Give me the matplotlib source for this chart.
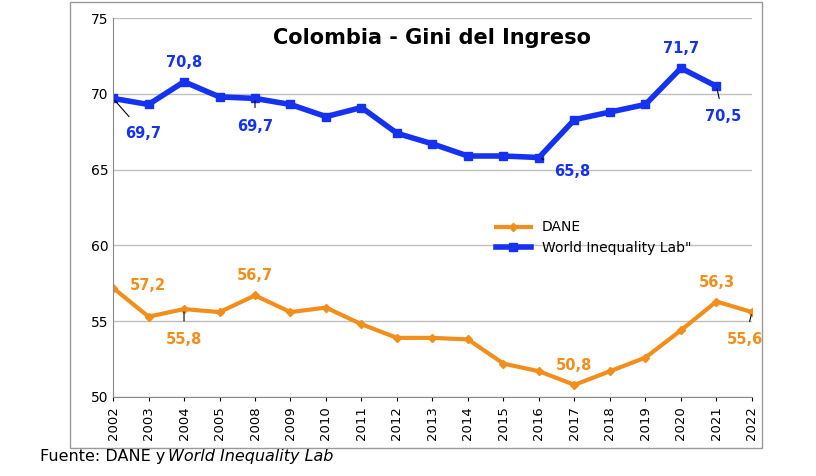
import numpy as np
import matplotlib.pyplot as plt
from matplotlib.patches import Rectangle

years = ['2002', '2003', '2004', '2005', '2008', '2009', '2010', '2011', '2012', '2013',
         '2014', '2015', '2016', '2017', '2018', '2019', '2020', '2021', '2022']
dane = [57.2, 55.3, 55.8, 55.6, 56.7, 55.6, 55.9, 54.8, 53.9, 53.9,
        53.8, 52.2, 51.7, 50.8, 51.7, 52.6, 54.4, 56.3, 55.6]
wil = [69.7, 69.3, 70.8, 69.8, 69.7, 69.3, 68.5, 69.1, 67.4, 66.7,
       65.9, 65.9, 65.8, 68.3, 68.8, 69.3, 71.7, 70.5, np.nan]

orange = '#F28E1C'
blue = '#1432F0'

fig = plt.figure(figsize=(8.16, 4.76), dpi=100)
ax = fig.add_axes([0.1385, 0.166, 0.783, 0.796])
x = np.arange(len(years))

ax.plot(x, dane, color=orange, lw=3, marker='D', ms=4, label='DANE')
ax.plot(x, wil, color=blue, lw=4, marker='s', ms=6, label='World Inequality Lab"')

ax.set_xlim(0, len(years) - 1)
ax.set_ylim(50, 75)
ax.set_yticks([50, 55, 60, 65, 70, 75])
ax.set_xticks(x)
ax.set_xticklabels(years, rotation=90, fontsize=9.5)
ax.tick_params(axis='y', labelsize=10, length=0)
ax.tick_params(axis='x', length=3)
ax.grid(axis='y', color='#bfbfbf', lw=1)
ax.set_axisbelow(True)
for s in ['top', 'right']:
    ax.spines[s].set_visible(False)
ax.spines['left'].set_color('#888888')
ax.spines['bottom'].set_color('#888888')

ax.set_title('Colombia - Gini del Ingreso', fontsize=15, fontweight='bold', y=0.91)

# (index, series, label offset in points, draw leader)
notes = [
    (0, wil, (22, -25), True), (2, wil, (0, 14), False), (4, wil, (0, -20), True),
    (12, wil, (24, -10), True), (16, wil, (0, 14), False), (17, wil, (5, -22), True),
    (0, dane, (25, 2), False), (2, dane, (0, -22), True), (4, dane, (0, 14), False),
    (13, dane, (0, 14), False), (17, dane, (0, 14), False), (18, dane, (-5, -20), True),
]
for i, series, off, leader in notes:
    col = blue if series is wil else orange
    txt = f'{series[i]:.1f}'.replace('.', ',')
    ax.annotate(txt, (x[i], series[i]), xytext=off, textcoords='offset points',
                ha='center', va='center', color=col, fontsize=10.5, fontweight='bold',
                arrowprops=dict(arrowstyle='-', color='black', lw=0.8, shrinkB=2, shrinkA=6)
                if leader else None)

ax.legend(loc='center left', bbox_to_anchor=(0.58, 0.42), frameon=False, fontsize=10,
          handlelength=2.5)

fig.patches.append(Rectangle((70 / 816, 1 - 448 / 476), 692 / 816, 446 / 476,
                             transform=fig.transFigure, fill=False, ec='#999999', lw=1))
fig.text(40 / 816, 1 - 457 / 476, 'Fuente: DANE y', fontsize=11.5, va='center')
fig.text(168 / 816, 1 - 457 / 476, 'World Inequality Lab', fontsize=11.5, va='center',
         style='italic')

fig.savefig('out.png', dpi=100)
